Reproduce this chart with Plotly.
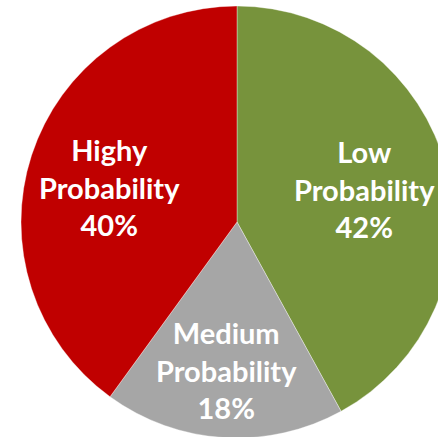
import math
import plotly.graph_objects as go

labels = ["Low<br>Probability", "Medium<br>Probability", "Highy<br>Probability"]
values = [42, 18, 40]
colors = ["#77933C", "#A6A6A6", "#C00000"]

W, H = 474, 444
R = 216
cx, cy = 237, 222
label_radius = [0.61, 0.687, 0.61]   # fraction of pie radius for each label
label_turn = [0.0, 0.4, -2.6]         # small angular nudge (degrees) for each label

fig = go.Figure(go.Pie(
    labels=labels,
    values=values,
    sort=False,
    direction="clockwise",
    rotation=0,
    marker=dict(colors=colors, line=dict(color="rgba(255,255,255,0.6)", width=0.6)),
    textinfo="none",
    hoverinfo="skip",
    showlegend=False,
    domain=dict(x=[(cx - R) / W, (cx + R) / W], y=[(H - cy - R) / H, (H - cy + R) / H]),
))

total = sum(values)
start = 0.0
for lab, v, fr, turn in zip(labels, values, label_radius, label_turn):
    mid = (start + v / 2) / total * 2 * math.pi + math.radians(turn)
    start += v
    px = cx + fr * R * math.sin(mid)
    py = cy - fr * R * math.cos(mid)
    fig.add_annotation(
        x=px / W, y=1 - py / H, xref="paper", yref="paper",
        text=f"{lab}<br>{round(v / total * 100)}%",
        showarrow=False, xanchor="center", yanchor="middle",
        font=dict(family="Lato", size=29, color="white", weight="bold"),
        align="center",
    )

fig.update_layout(
    width=W, height=H,
    margin=dict(l=0, r=0, t=0, b=0),
    paper_bgcolor="white",
    showlegend=False,
)

fig.write_html("out.html", post_script="document.documentElement.style.overflow='hidden';document.body.style.overflow='hidden';document.body.style.margin='0';")
